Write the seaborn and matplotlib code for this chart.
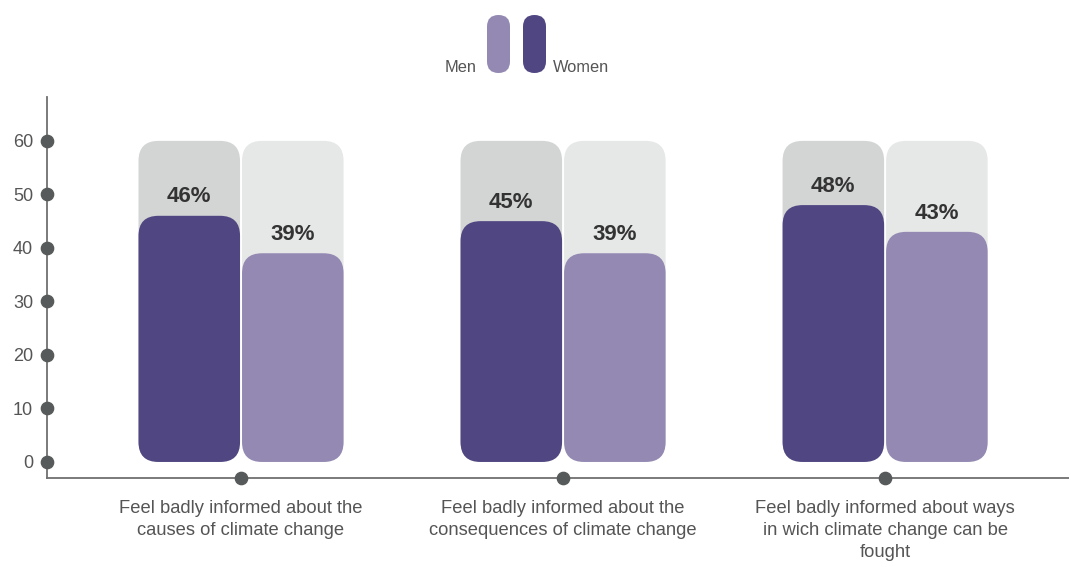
import matplotlib
matplotlib.use("Agg")
import matplotlib.pyplot as plt
from matplotlib.patches import FancyBboxPatch, Rectangle
import seaborn as sns
import pandas as pd

# ---- data -------------------------------------------------------------
categories = [
    "Feel badly informed about the\ncauses of climate change",
    "Feel badly informed about the\nconsequences of climate change",
    "Feel badly informed about ways\nin wich climate change can be\nfought",
]
women = [46, 45, 48]
men = [39, 39, 43]
scale_max = 60
yticks = [0, 10, 20, 30, 40, 50, 60]
groups = ["Women", "Men"]

# ---- style ------------------------------------------------------------
WOMEN_C, MEN_C = "#4f4682", "#9489b3"
WOMEN_BG, MEN_BG = "#d3d4d4", "#e6e7e7"
AXIS_C, DOT_C, TEXT_C = "#707070", "#575a5a", "#555555"

sns.set_theme(style="white")
plt.rcParams["font.family"] = ["Liberation Sans", "DejaVu Sans"]

W, H = 1069, 561
fig = plt.figure(figsize=(W / 100, H / 100), dpi=100)
ax = fig.add_axes([47 / W, (H - 478) / H, (W - 47) / W, (478 - 97) / H])

df = pd.DataFrame({
    "category": categories * 2,
    "gender": ["Women"] * len(women) + ["Men"] * len(men),
    "value": women + men,
})
track = df.assign(value=scale_max)

sns.barplot(data=track, x="category", y="value", hue="gender", hue_order=groups,
            palette=[WOMEN_BG, MEN_BG], width=0.643, errorbar=None,
            saturation=1, legend=False, ax=ax)
sns.barplot(data=df, x="category", y="value", hue="gender", hue_order=groups,
            palette=[WOMEN_C, MEN_C], width=0.643, errorbar=None,
            saturation=1, legend=False, ax=ax)

xmin, xmax = -0.6025, 2.571
ymin, ymax = -3, 68.2
ax.set_xlim(xmin, xmax)
ax.set_ylim(ymin, ymax)

# value labels above the coloured bars
for cont in ax.containers[2:]:
    ax.bar_label(cont, fmt="{:.0f}%", padding=6, fontsize=16,
                 fontweight="bold", color="#333333")

# swap the square bars for rounded ones
px_x = (W - 47) / (xmax - xmin)
px_y = (478 - 97) / (ymax - ymin)
radius_px = 20
rx = radius_px / px_x
ry = radius_px / px_y
gap = 1.0 / px_x
for p in list(ax.patches):
    if not isinstance(p, Rectangle) or p.get_height() <= 0:
        continue
    x, y, w, h = p.get_x(), p.get_y(), p.get_width(), p.get_height()
    fc = p.get_facecolor()
    z = p.get_zorder()
    p.remove()
    ax.add_patch(FancyBboxPatch(
        (x + gap, y), w - 2 * gap, h,
        boxstyle=f"round,pad=0,rounding_size={rx}",
        mutation_aspect=ry / rx, fc=fc, ec="none", zorder=z))

# axes
sns.despine(ax=ax, top=True, right=True)
for side in ("left", "bottom"):
    ax.spines[side].set_color(AXIS_C)
    ax.spines[side].set_linewidth(1.3)

ax.set_yticks(yticks)
ax.set_yticklabels([str(t) for t in yticks])
ax.tick_params(axis="y", length=0, pad=10, labelsize=13, labelcolor=TEXT_C)
ax.tick_params(axis="x", length=0, pad=16, labelsize=13.2, labelcolor=TEXT_C)
for lbl in ax.get_xticklabels():
    lbl.set_linespacing(1.38)
    lbl.set_multialignment("center")
ax.set_xlabel("")
ax.set_ylabel("")

# dot markers on both axes
ax.scatter([xmin] * len(yticks), yticks, s=78, color=DOT_C, zorder=10, clip_on=False)
ax.scatter(range(len(categories)), [ymin] * len(categories), s=78, color=DOT_C,
           zorder=10, clip_on=False)

# legend: rounded pills with labels
pill_w, pill_h = 23 / W, 58 / H
pill_y = (H - 73) / H
for x0, c in ((487, MEN_C), (523, WOMEN_C)):
    fig.add_artist(FancyBboxPatch(
        (x0 / W, pill_y), pill_w, pill_h,
        boxstyle=f"round,pad=0,rounding_size={pill_w / 2}",
        mutation_aspect=W / H, fc=c, ec="none", transform=fig.transFigure))
fig.text(477 / W, (H - 72) / H, "Men", ha="right", va="baseline",
         fontsize=11.8, color=TEXT_C)
fig.text(553 / W, (H - 72) / H, "Women", ha="left", va="baseline",
         fontsize=11.8, color=TEXT_C)

fig.savefig("out.png", dpi=100, facecolor="white")
